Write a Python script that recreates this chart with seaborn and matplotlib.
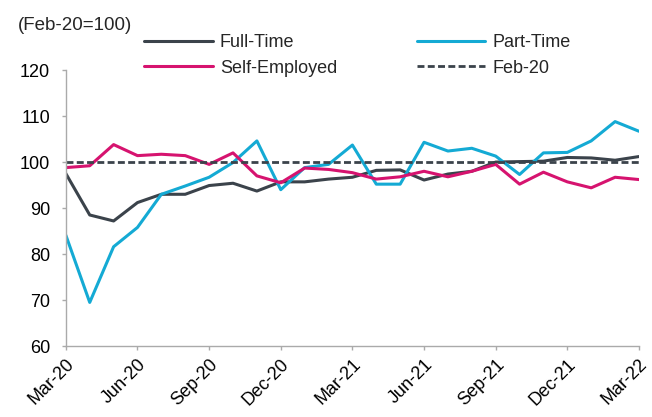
import pandas as pd
import matplotlib.pyplot as plt
import seaborn as sns

months = pd.date_range('2020-03-01', '2022-03-01', freq='MS')
full_time = [97.5, 88.5, 87.2, 91.2, 93.0, 93.0, 94.9, 95.4, 93.7, 95.7, 95.7, 96.3, 96.7,
             98.2, 98.3, 96.1, 97.4, 98.0, 100.0, 100.1, 100.2, 101.0, 100.9, 100.4, 101.2]
part_time = [84.1, 69.5, 81.6, 85.8, 93.0, 94.8, 96.7, 99.9, 104.6, 94.0, 98.8, 99.5, 103.7,
             95.2, 95.2, 104.3, 102.4, 103.0, 101.3, 97.3, 102.0, 102.1, 104.6, 108.8, 106.7]
self_employed = [98.8, 99.2, 103.8, 101.4, 101.7, 101.4, 99.5, 102.0, 97.0, 95.5, 98.7, 98.4, 97.7,
                 96.3, 96.8, 98.0, 96.8, 98.0, 99.5, 95.2, 97.8, 95.7, 94.4, 96.7, 96.2]
baseline = [100] * len(months)

tick_labels = ['Mar-20', 'Jun-20', 'Sep-20', 'Dec-20', 'Mar-21', 'Jun-21', 'Sep-21', 'Dec-21', 'Mar-22']

sns.set_style('white')
plt.rcParams['font.family'] = ['Liberation Sans', 'DejaVu Sans']

df = pd.DataFrame({'x': range(len(months)), 'Full-Time': full_time, 'Part-Time': part_time,
                   'Self-Employed': self_employed, 'Feb-20': baseline})

fig = plt.figure(figsize=(6.52, 4.17), dpi=100)
ax = fig.add_axes([0.101, 0.170, 0.879, 0.662])

sns.lineplot(data=df, x='x', y='Full-Time', color='#3b434b', lw=2.2, label='Full-Time', ax=ax)
sns.lineplot(data=df, x='x', y='Part-Time', color='#14aad4', lw=2.2, label='Part-Time', ax=ax)
sns.lineplot(data=df, x='x', y='Self-Employed', color='#d6136f', lw=2.2, label='Self-Employed', ax=ax)
sns.lineplot(data=df, x='x', y='Feb-20', color='#3b434b', lw=2, linestyle=(0, (2.5, 1.2)),
             label='Feb-20', ax=ax)

ax.set_xlim(0, len(months) - 1)
ax.set_ylim(60, 120)
ax.set_yticks(range(60, 121, 10))
ax.set_xticks(range(0, len(months), 3))
ax.set_xticklabels(tick_labels, rotation=45, ha='right', rotation_mode='anchor')
ax.set_xlabel('')
ax.set_ylabel('')
ax.tick_params(axis='both', labelsize=13, colors='#aaaaaa', labelcolor='black', length=3, width=1,
               direction='out', left=True, bottom=True)
ax.tick_params(axis='y', pad=8.5)
ax.tick_params(axis='x', pad=4)
for s in ['top', 'right']:
    ax.spines[s].set_visible(False)
for s in ['left', 'bottom']:
    ax.spines[s].set_color('#aaaaaa')
    ax.spines[s].set_linewidth(1)

# row order: Full-Time, Part-Time / Self-Employed, Feb-20
h, l = ax.get_legend_handles_labels()
order = [0, 2, 1, 3]
ax.legend([h[i] for i in order], [l[i] for i in order], ncol=2, frameon=False, fontsize=13,
          loc='center left', bbox_to_anchor=(144 / 652, 1 - 55.5 / 417), bbox_transform=fig.transFigure,
          borderpad=0, borderaxespad=0, handlelength=3.8, columnspacing=4.4, handletextpad=0.4,
          labelspacing=0.45)

fig.text(18 / 652, 1 - 25 / 417, '(Feb-20=100)', fontsize=13.5, va='center')

fig.savefig('out.png', dpi=100)
